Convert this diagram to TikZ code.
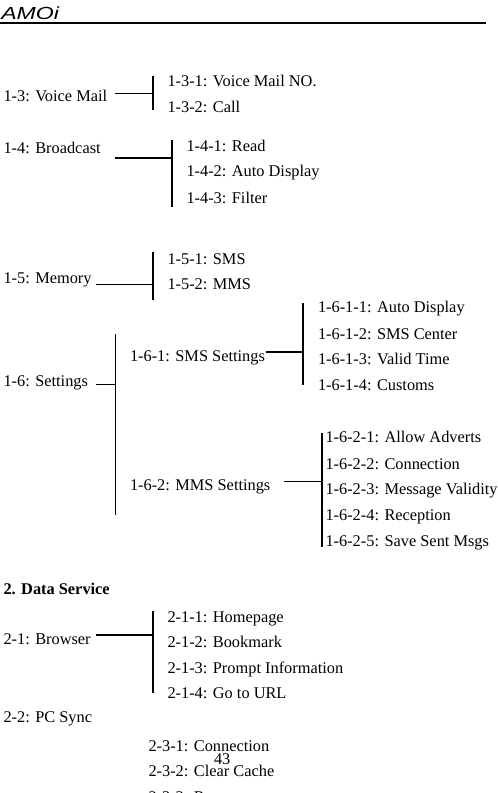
\documentclass[tikz,border=0pt]{standalone}
\usepackage{fontspec}
\setmainfont{Liberation Serif}
\newfontfamily\logofont{Liberation Sans}
\tikzset{
  x=1bp,y=-1bp,
  lbl/.style={anchor=base west,inner sep=0pt,outer sep=0pt,font=\fontsize{16.35bp}{18bp}\selectfont},
  thin line/.style={line width=0.9bp,black},
  thick line/.style={line width=1.9bp,black},
}
\begin{document}
\begin{tikzpicture}
\useasboundingbox (0,0) rectangle (498,793);
\clip (0,0) rectangle (498,793);
% header
\node[anchor=base west,inner sep=0pt,font=\logofont\itshape\fontsize{17.5bp}{17.5bp}\selectfont,xscale=1.32] (logo) at (1,19.5) {AMOi};
\coordinate (hl) at (0,23); \coordinate (hr) at (486,23);
\draw[line width=1.6bp] (hl) -- (hr);
% 1-3
\node[lbl] (a13) at (3.5,101) {1-3: Voice Mail};
\node[lbl] (a131) at (167.5,86) {1-3-1: Voice Mail NO.};
\node[lbl] (a132) at (167.5,112) {1-3-2: Call};
\coordinate (b13t) at (153,76); \coordinate (b13b) at (153,110); \coordinate (c13) at (115,93); \coordinate (d13) at (153,93);
\draw[thick line] (b13t) -- (b13b);
\draw[thin line] (c13) -- (d13);
% 1-4
\node[lbl] (a14) at (3.5,153) {1-4: Broadcast};
\node[lbl] (a141) at (186.5,151) {1-4-1: Read};
\node[lbl] (a142) at (186.5,176) {1-4-2: Auto Display};
\node[lbl] (a143) at (186.5,203) {1-4-3: Filter};
\coordinate (b14t) at (172,140); \coordinate (b14b) at (172,207); \coordinate (c14) at (115,158); \coordinate (d14) at (172,158);
\draw[thick line] (b14t) -- (b14b);
\draw[thick line] (c14) -- (d14);
% 1-5
\node[lbl] (a15) at (3.5,283) {1-5: Memory};
\node[lbl] (a151) at (167.5,264) {1-5-1: SMS};
\node[lbl] (a152) at (167.5,289) {1-5-2: MMS};
\coordinate (b15t) at (153,252); \coordinate (b15b) at (153,300); \coordinate (c15) at (96,284); \coordinate (d15) at (153,284);
\draw[thick line] (b15t) -- (b15b);
\draw[thin line] (c15) -- (d15);
% 1-6
\node[lbl] (a16) at (3.5,386) {1-6: Settings};
\node[lbl] (a161) at (130,361) {1-6-1: SMS Settings};
\node[lbl] (a162) at (130,490) {1-6-2: MMS Settings};
\coordinate (b16t) at (115,334); \coordinate (b16b) at (115,515); \coordinate (c16) at (96,384); \coordinate (d16) at (115,384);
\draw[thin line] (b16t) -- (b16b);
\draw[thin line] (c16) -- (d16);
% 1-6-1
\node[lbl] (a1611) at (318,312) {1-6-1-1: Auto Display};
\node[lbl] (a1612) at (318,339) {1-6-1-2: SMS Center};
\node[lbl] (a1613) at (318,364) {1-6-1-3: Valid Time};
\node[lbl] (a1614) at (318,390) {1-6-1-4: Customs};
\coordinate (b161t) at (303,303); \coordinate (b161b) at (303,385); \coordinate (c161) at (266,352); \coordinate (d161) at (303,352);
\draw[thick line] (b161t) -- (b161b);
\draw[thick line] (c161) -- (d161);
% 1-6-2
\node[lbl] (a1621) at (325.5,442) {1-6-2-1: Allow Adverts};
\node[lbl] (a1622) at (325.5,469) {1-6-2-2: Connection};
\node[lbl] (a1623) at (325.5,494) {1-6-2-3: Message Validity};
\node[lbl] (a1624) at (325.5,520) {1-6-2-4: Reception};
\node[lbl] (a1625) at (325.5,546) {1-6-2-5: Save Sent Msgs};
\coordinate (b162t) at (322,433); \coordinate (b162b) at (322,547); \coordinate (c162) at (284,481); \coordinate (d162) at (322,481);
\draw[thick line] (b162t) -- (b162b);
\draw[thin line] (c162) -- (d162);
% 2
\node[lbl,font=\bfseries\fontsize{16.35bp}{18bp}\selectfont] (s2) at (3.5,594) {2. Data Service};
\node[lbl] (a21) at (3.5,644) {2-1: Browser};
\node[lbl] (a211) at (167.5,622) {2-1-1: Homepage};
\node[lbl] (a212) at (167.5,647) {2-1-2: Bookmark};
\node[lbl] (a213) at (167.5,673) {2-1-3: Prompt Information};
\node[lbl] (a214) at (167.5,698) {2-1-4: Go to URL};
\coordinate (b21t) at (153,611); \coordinate (b21b) at (153,693); \coordinate (c21) at (96,635); \coordinate (d21) at (153,635);
\draw[thick line] (b21t) -- (b21b);
\draw[thick line] (c21) -- (d21);
\node[lbl] (a22) at (3.5,722) {2-2: PC Sync};
\node[lbl] (a231) at (148.5,751) {2-3-1: Connection};
\node[lbl] (pg) at (214,764) {43};
\node[lbl] (a232) at (148.5,776) {2-3-2: Clear Cache};
\node[lbl] (a233) at (148.5,802) {2-3-3: R};
\end{tikzpicture}
\end{document}
